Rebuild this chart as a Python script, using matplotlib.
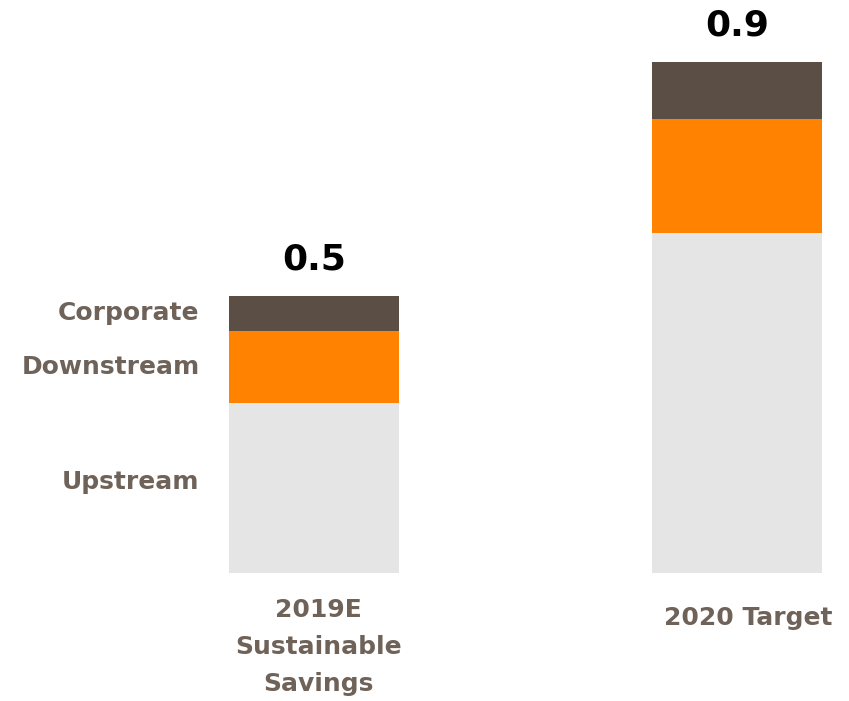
import numpy as np
import matplotlib.pyplot as plt

categories = ["2019E\nSustainable\nSavings", "2020 Target"]
segments = ["Upstream", "Downstream", "Corporate"]
upstream = [0.305, 0.612]
downstream = [0.131, 0.205]
corporate = [0.063, 0.103]
totals = ["0.5", "0.9"]

colors = ["#e5e5e5", "#ff8200", "#5b4e44"]
text_color = "#6e6259"
plt.rcParams['font.family'] = ['DejaVu Sans']

fig = plt.figure(figsize=(8.49, 7.01), dpi=100)
ax = fig.add_axes([0, 0, 1, 1])

x = np.arange(len(categories))
width = 0.402
bottom = np.zeros(len(categories))
for vals, c in zip([upstream, downstream, corporate], colors):
    ax.bar(x, vals, width, bottom=bottom, color=c, edgecolor="none")
    bottom += np.array(vals)

# totals on top
for xi, top, t in zip(x, bottom, totals):
    ax.text(xi, top + 0.065, t, ha="center", va="center", fontsize=26,
            fontweight="bold", color="black")

# segment labels left of first bar
mids = [upstream[0] / 2 + 0.012,
        upstream[0] + downstream[0] / 2,
        upstream[0] + downstream[0] + corporate[0] / 2]
for name, m in zip(segments, mids):
    ax.text(-0.27, m, name, ha="right", va="center", fontsize=18,
            fontweight="bold", color=text_color)

# category labels
ax.text(0.01, -0.133, categories[0], ha="center", va="center", fontsize=18,
        fontweight="bold", color=text_color, linespacing=1.68)
ax.text(1.028, -0.081, categories[1], ha="center", va="center", fontsize=18,
        fontweight="bold", color=text_color)

ax.set_xlim(-0.742, 1.265)
ax.set_ylim(-0.230, 1.0306)
ax.axis("off")

fig.savefig("out.png", dpi=100)
